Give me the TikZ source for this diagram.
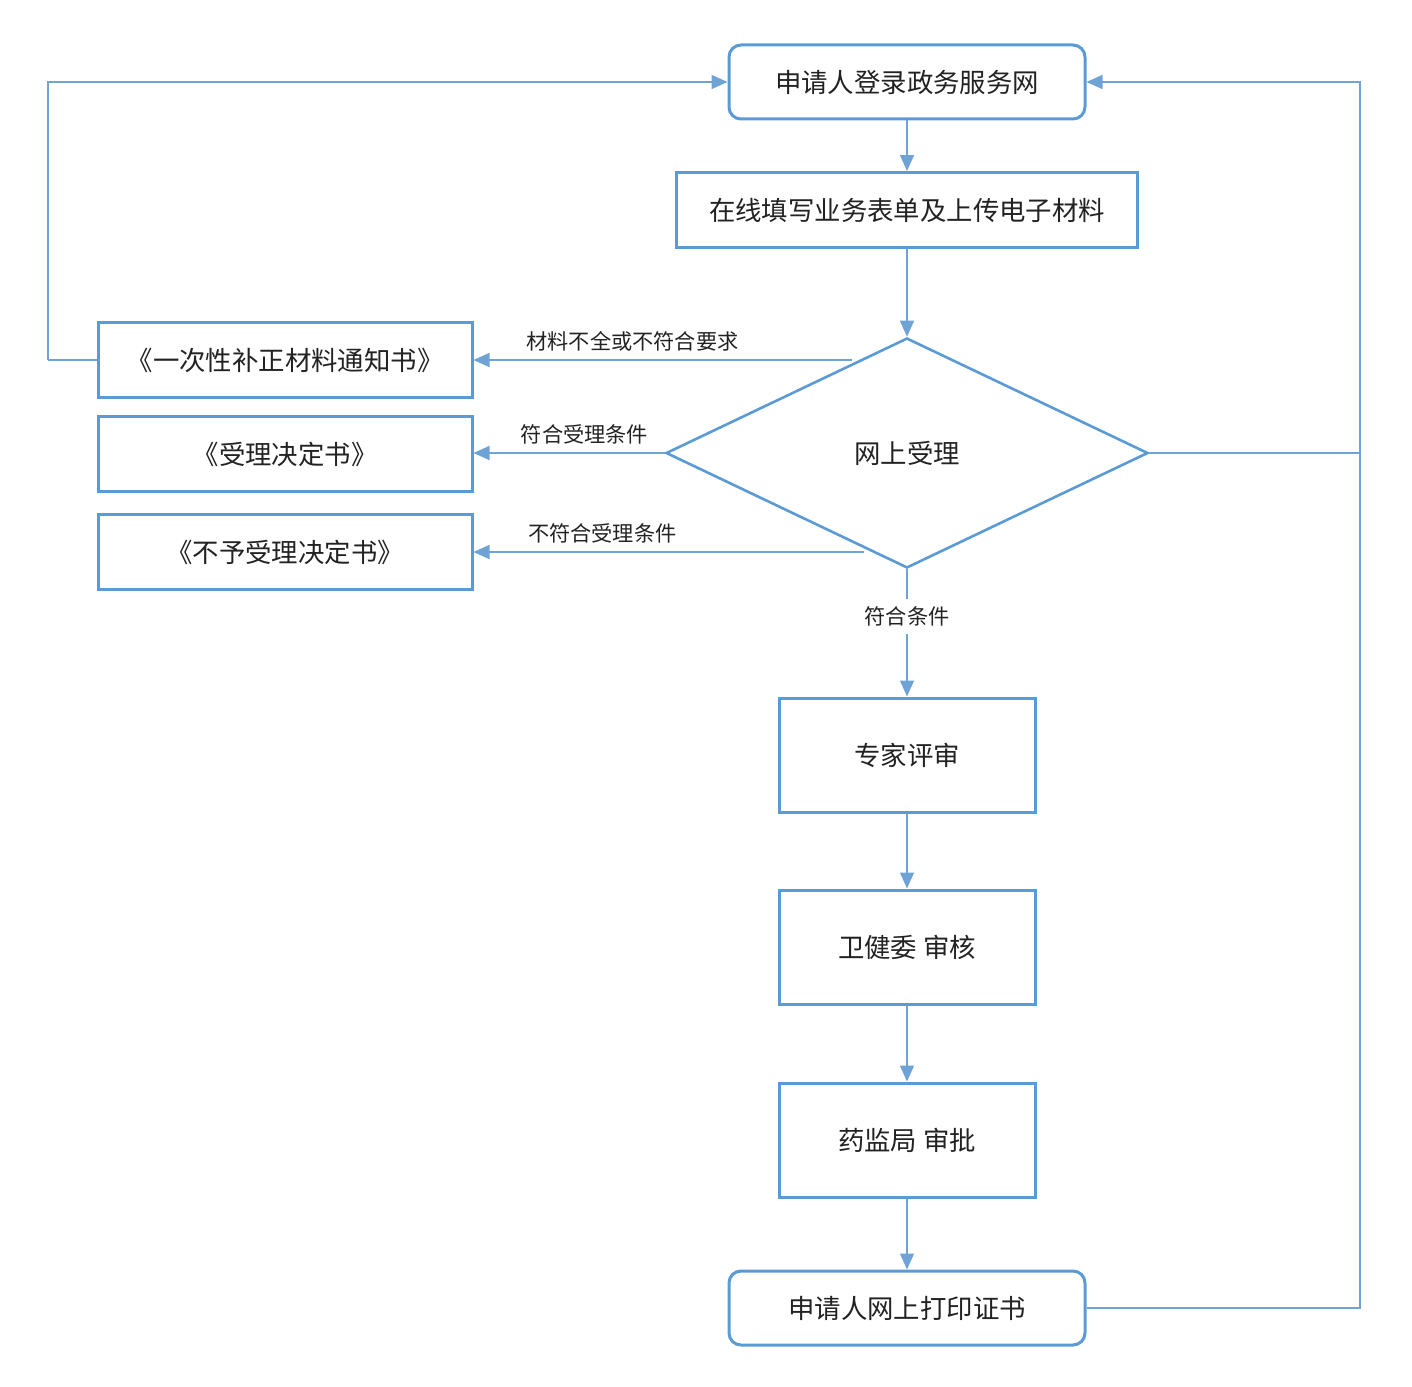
\documentclass[tikz,border=0pt]{standalone}
\usepackage{fontspec}
\setmainfont{Noto Sans CJK SC}
\usetikzlibrary{arrows.meta,shapes.geometric}
\definecolor{boxblue}{HTML}{5B9BD5}
\definecolor{lineblue}{HTML}{6FA3D6}
\definecolor{txt}{HTML}{222222}

\begin{document}
\begin{tikzpicture}[
  x=0.5pt, y=-0.5pt, font=\fontsize{13.2}{15}\selectfont, text=txt,
  box/.style={draw=boxblue,line width=1.5pt,fill=white,align=center,inner sep=2pt},
  rbox/.style={box,rounded corners=6pt,minimum width=178pt,minimum height=37pt},
  doc/.style={box,minimum width=187pt,minimum height=37.5pt},
  stage/.style={box,minimum width=128pt,minimum height=57pt},
  check/.style={draw=boxblue,line width=1.3pt,shape=diamond,minimum width=241pt,
                minimum height=115pt,inner sep=0pt},
  flow/.style={draw=lineblue,line width=0.75pt,-{Triangle[length=8pt,width=7pt]}},
  link/.style={draw=lineblue,line width=0.75pt},
  lbl/.style={font=\fontsize{10.6}{12}\selectfont,text=txt,inner sep=1pt}]

\useasboundingbox (0,0) rectangle (1412,1386);

% main column
\node[rbox] (login) at (907,82) {申请人登录政务服务网};
\node[box,minimum width=230.5pt,minimum height=37.5pt] (fill) at (907,210) {在线填写业务表单及上传电子材料};
\node[check] (accept) at (907,453) {网上受理};
\node[stage] (expert) at (907,755) {专家评审};
\node[stage] (health) at (907,947) {卫健委 审核};
\node[stage] (drug) at (907,1140) {药监局 审批};
\node[rbox] (print) at (907,1308) {申请人网上打印证书};

% outcome documents
\node[doc] (notice) at (285,360) {《一次性补正材料通知书》};
\node[doc] (grant) at (285,454) {《受理决定书》};
\node[doc] (refuse) at (285,552) {《不予受理决定书》};

\coordinate (up) at (852,360);
\coordinate (dn) at (864,552);
\coordinate (lc) at (48,360);
\coordinate (rc) at (1360,453);

\draw[flow] (login) -- (fill);
\draw[flow] (fill) -- (accept);
\draw[flow] (up) -- (notice.east) node[lbl,pos=0.58,above=3pt] {材料不全或不符合要求};
\draw[flow] (accept.west) -- (grant.east |- accept.west) node[lbl,pos=0.42,above=3pt] {符合受理条件};
\draw[flow] (dn) -- (refuse.east) node[lbl,pos=0.67,above=3pt] {不符合受理条件};
\draw[flow] (accept.south) -- (expert.north) node[lbl,pos=0.37,fill=white,inner sep=4pt] {符合条件};
\draw[flow] (expert) -- (health);
\draw[flow] (health) -- (drug);
\draw[flow] (drug) -- (print);

% loops back to login
\draw[link] (notice.west) -- (lc);
\draw[flow] (lc) |- (login.west);
\draw[flow] (accept.east) -- (rc) |- (login.east);
\draw[link] (print.east) -| (rc);
\end{tikzpicture}
\end{document}
